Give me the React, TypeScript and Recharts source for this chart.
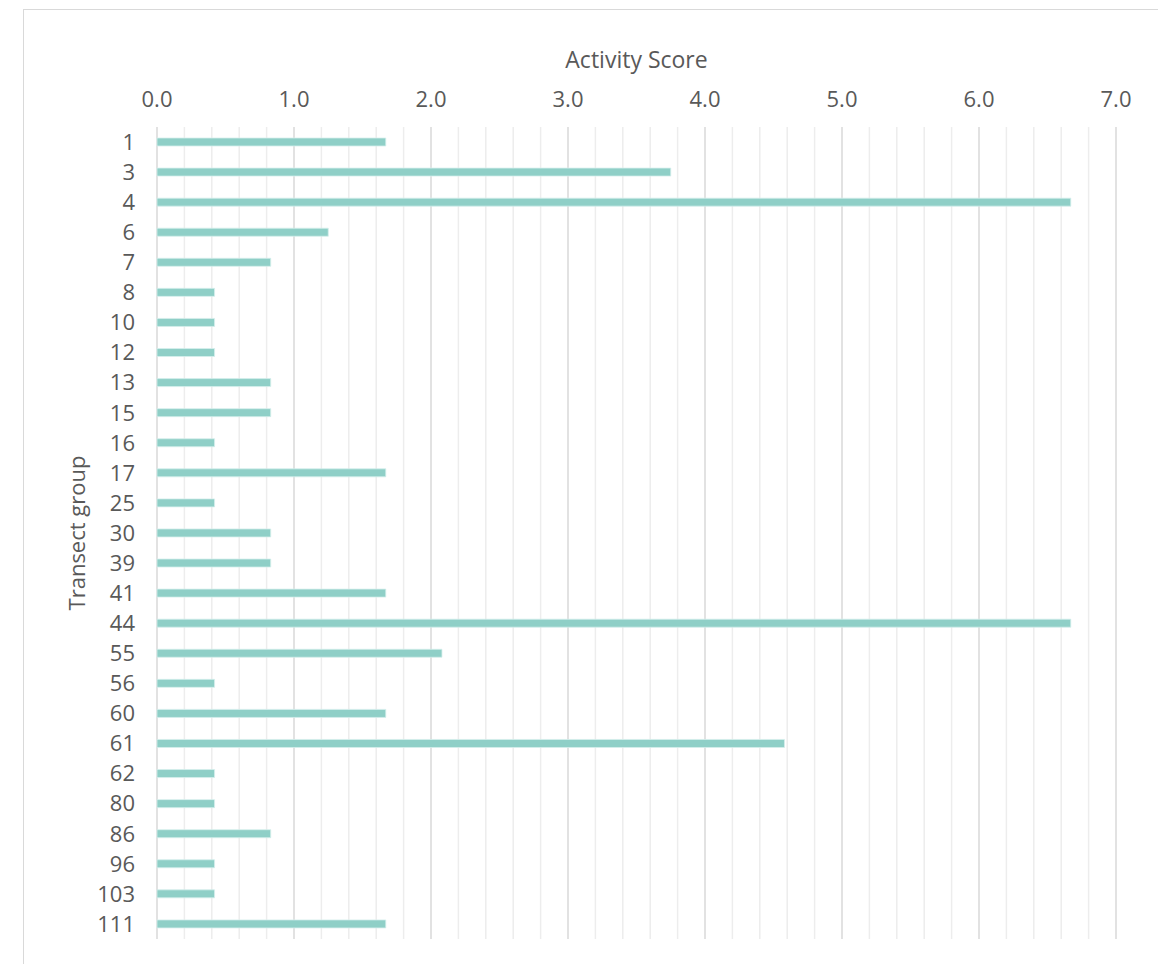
import React from "react";
import { BarChart, Bar, XAxis, YAxis, CartesianGrid } from "recharts";

const GROUPS = ["1","3","4","6","7","8","10","12","13","15","16","17","25","30","39","41","44","55","56","60","61","62","80","86","96","103","111"];
const SCORES = [1.67,3.75,6.67,1.25,0.83,0.42,0.42,0.42,0.83,0.83,0.42,1.67,0.42,0.83,0.83,1.67,6.67,2.08,0.42,1.67,4.58,0.42,0.42,0.83,0.42,0.42,1.67];
const MAJOR_TICKS = [0,1,2,3,4,5,6,7];
const MINOR_TICKS = [0.2,0.4,0.6,0.8,1.2,1.4,1.6,1.8,2.2,2.4,2.6,2.8,3.2,3.4,3.6,3.8,4.2,4.4,4.6,4.8,5.2,5.4,5.6,5.8,6.2,6.4,6.6,6.8];

const data = GROUPS.map((g, i) => ({ group: g, score: SCORES[i] }));

const FONT = "'Open Sans', 'Noto Sans', sans-serif";
const TEXT = "#595959";

export default function App() {
  return (
    <div style={{ position: "absolute", left: 0, top: 0, width: 1158, height: 964, overflow: "hidden", background: "#fff" }}>
      <div style={{ position: "absolute", left: 23, top: 9, width: 1300, height: 1100, borderTop: "1px solid #d9d9d9", borderLeft: "1px solid #d9d9d9" }} />
      <div style={{ position: "absolute", left: 0, top: 0 }}>
        <BarChart
          width={1158}
          height={964}
          data={data}
          layout="vertical"
          margin={{ top: 47, right: 42, bottom: 25, left: 17 }}
          barCategoryGap={0}
          style={{ fontFamily: FONT }}
        >
          <CartesianGrid horizontal={false} verticalValues={MINOR_TICKS} stroke="#EDEDED" strokeWidth={1.5} />
          <CartesianGrid horizontal={false} verticalValues={MAJOR_TICKS} stroke="#D9D9D9" strokeWidth={1.5} />
          <XAxis
            type="number"
            orientation="top"
            domain={[0, 7]}
            ticks={MAJOR_TICKS}
            interval={0}
            height={80}
            axisLine={false}
            tickLine={false}
            tickMargin={14}
            tickFormatter={(v: number) => v.toFixed(1)}
            tick={{ fill: TEXT, fontSize: 22, fontFamily: FONT }}
            label={{ value: "Activity Score", position: "insideTop", fill: TEXT, fontSize: 23, fontFamily: FONT }}
          />
          <YAxis
            type="category"
            dataKey="group"
            width={140}
            interval={0}
            axisLine={false}
            tickLine={false}
            tickMargin={16}
            tick={{ fill: TEXT, fontSize: 22, fontFamily: FONT }}
            label={{ value: "Transect group", angle: -90, position: "center", dx: -10, fill: TEXT, fontSize: 22, fontFamily: FONT }}
          />
          <Bar dataKey="score" fill="#8FCFC7" stroke="#D6EFEC" strokeWidth={0.8} barSize={8} isAnimationActive={false} />
        </BarChart>
      </div>
    </div>
  );
}
